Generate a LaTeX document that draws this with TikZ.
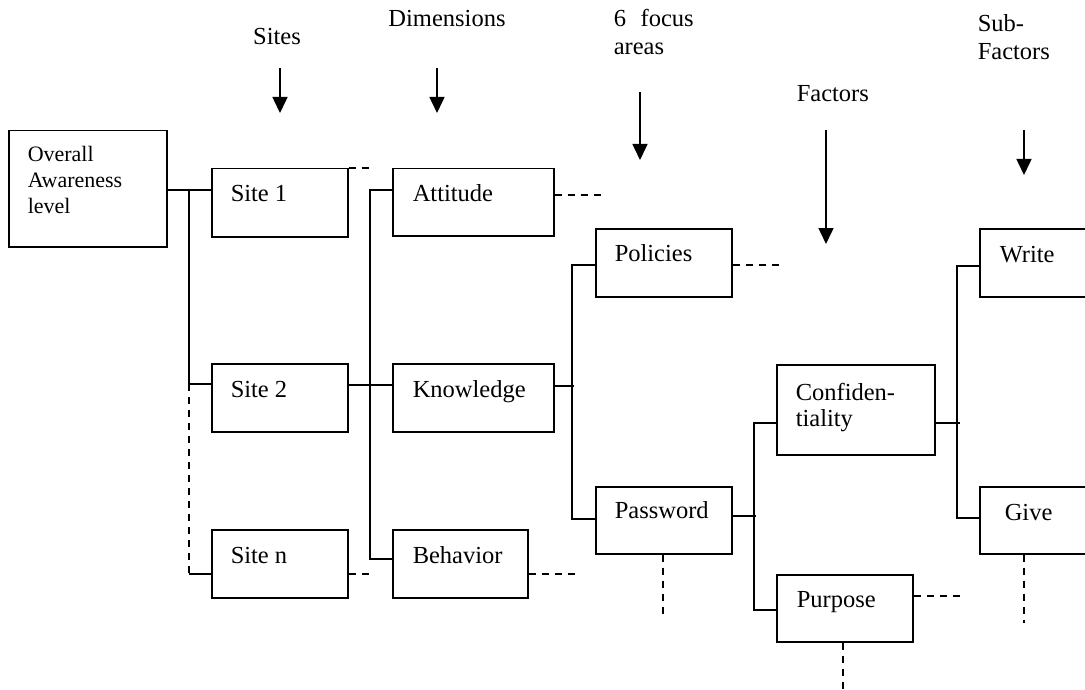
\documentclass[tikz,border=0pt]{standalone}
\usepackage{fontspec}
\setmainfont{Liberation Serif}
\usetikzlibrary{arrows.meta,calc}
\begin{document}
\begin{tikzpicture}[x=1pt,y=-1pt,
  line width=1.5pt,
  box/.style={draw, line width=1.5pt, inner sep=0pt, anchor=north west},
  txt/.style={anchor=base west, inner sep=0pt, font=\fontsize{24.5}{27}\selectfont},
  smalltxt/.style={anchor=base west, inner sep=0pt, font=\fontsize{22}{25}\selectfont},
  lbl/.style={anchor=base, inner sep=0pt, font=\fontsize{24.5}{27}\selectfont},
  dsh/.style={dash pattern=on 7pt off 6pt},
  arr/.style={-{Triangle[width=15pt,length=16pt]}},
]
\useasboundingbox (0,0) rectangle (1085,690);

% boxes
\node[box, minimum width=158pt, minimum height=116pt] (ov) at (8,130) {};
\node[box, minimum width=136pt, minimum height=68pt] (s1) at (211,168) {};
\node[box, minimum width=136pt, minimum height=68pt] (s2) at (211,363) {};
\node[box, minimum width=136pt, minimum height=68pt] (sn) at (211,529) {};
\node[box, minimum width=161pt, minimum height=67pt] (att) at (392,168) {};
\node[box, minimum width=161pt, minimum height=68pt] (kno) at (392,363) {};
\node[box, minimum width=135pt, minimum height=68pt] (beh) at (392,529) {};
\node[box, minimum width=136pt, minimum height=68pt] (pol) at (595,228) {};
\node[box, minimum width=136pt, minimum height=67pt] (pas) at (595,486) {};
\node[box, minimum width=158pt, minimum height=90pt] (con) at (776,364) {};
\node[box, minimum width=136pt, minimum height=67pt] (pur) at (776,574) {};
\node[box, minimum width=130pt, minimum height=68pt] (wri) at (979,228) {};
\node[box, minimum width=130pt, minimum height=67pt] (giv) at (979,486) {};

% box texts
\node[smalltxt] (ovt1) at (27,162) {Overall};
\node[smalltxt] (ovt2) at (27,187) {Awareness};
\node[smalltxt] (ovt3) at (27,213) {level};
\node[txt] (s1t) at (230,201) {Site 1};
\node[txt] (s2t) at (230,397) {Site 2};
\node[txt] (snt) at (230,563) {Site n};
\node[txt] (attt) at (412,201) {Attitude};
\node[txt] (knot) at (412,397) {Knowledge};
\node[txt] (beht) at (412,563) {Behavior};
\node[txt] (polt) at (614,261) {Policies};
\node[txt] (past) at (614,518) {Password};
\node[txt] (cont1) at (795,400) {Confiden-};
\node[txt] (cont2) at (795,426) {tiality};
\node[txt] (purt) at (796,607) {Purpose};
\node[txt] (writ) at (999,262) {Write};
\node[txt] (givt) at (1004,520) {Give};

% column labels
\node[lbl] (lsites) at (277,45) {Sites};
\node[lbl] (ldim) at (447,27) {Dimensions};
\node[txt] (lfoc1) at (613,27) {6\hspace{0.6em}focus};
\node[txt] (lfoc2) at (613,55) {areas};
\node[txt] (lfac) at (796,102) {Factors};
\node[txt] (lsub1) at (977,32) {Sub-};
\node[txt] (lsub2) at (977,60) {Factors};

% arrows
\coordinate (a1s) at (280,68);  \coordinate (a1e) at (280,113);
\coordinate (a2s) at (437,68);  \coordinate (a2e) at (437,113);
\coordinate (a3s) at (640,92);  \coordinate (a3e) at (640,160);
\coordinate (a4s) at (826,130); \coordinate (a4e) at (826,244);
\coordinate (a5s) at (1024,130);\coordinate (a5e) at (1024,175);
\draw[arr] (a1s) -- (a1e);
\draw[arr] (a2s) -- (a2e);
\draw[arr] (a3s) -- (a3e);
\draw[arr] (a4s) -- (a4e);
\draw[arr] (a5s) -- (a5e);

% overall -> sites
\draw ($(ov.north east)+(0,60)$) -- ($(s1.north west)+(0,22)$);
\draw ($(s1.north west)+(-22,22)$) -- ($(s2.north west)+(-22,21)$) -- ($(s2.north west)+(0,21)$);
\draw[dsh] ($(s2.north west)+(-22,21)$) -- ($(sn.north west)+(-22,45)$);
\draw ($(sn.north west)+(-22,45)$) -- ($(sn.north west)+(0,45)$);
\draw[dsh] (s1.north east) -- ++(20,0);
\draw[dsh] ($(sn.north east)+(0,45)$) -- ++(20,0);

% site 2 -> dimensions
\draw ($(s2.north east)+(0,22)$) -- ($(kno.north west)+(0,22)$);
\draw ($(att.north west)+(0,22)$) -- ++(-22,0) |- ($(beh.north west)+(0,30)$);
\draw[dsh] ($(att.north east)+(0,27)$) -- ++(47,0);
\draw[dsh] ($(beh.north east)+(0,45)$) -- ++(46,0);

% knowledge -> focus areas
\draw ($(kno.north east)+(0,23)$) -- ++(19,0);
\draw ($(pol.north west)+(0,37)$) -- ++(-23,0) |- ($(pas.north west)+(0,33)$);
\draw[dsh] ($(pol.north east)+(0,37)$) -- ++(46,0);
\draw[dsh] ($(pas.south west)+(68,0)$) -- ++(0,65);

% password -> factors
\draw ($(pas.north east)+(0,30)$) -- ++(23,0);
\draw ($(con.north west)+(0,59)$) -- ++(-22,0) |- ($(pur.north west)+(0,36)$);
\draw[dsh] ($(pur.north east)+(0,22)$) -- ++(46,0);
\draw[dsh] ($(pur.south west)+(67,0)$) -- ++(0,47);

% confidentiality -> sub-factors
\draw ($(con.north east)+(0,59)$) -- ++(24,0);
\draw ($(wri.north west)+(0,38)$) -- ++(-22,0) |- ($(giv.north west)+(0,32)$);
\draw[dsh] ($(giv.south west)+(45,0)$) -- ++(0,68);
\end{tikzpicture}
\end{document}
